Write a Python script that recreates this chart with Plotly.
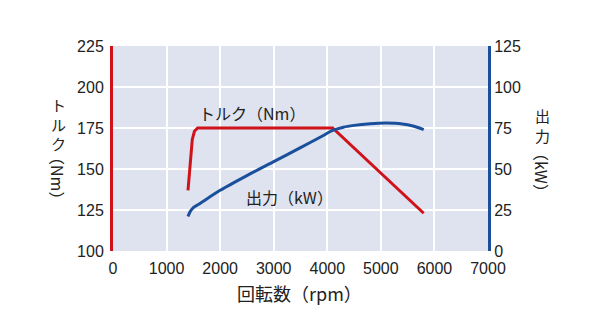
import plotly.graph_objects as go

# Data
torque_rpm = [1400, 1480, 1520, 1580, 4100, 5800]
torque_nm = [137, 168, 173, 175, 175, 123]

power_rpm = [1400, 1440, 1500, 1600, 2000, 2500, 3000, 3500, 3900, 4100, 4300, 4500, 4800, 5100, 5400, 5600, 5800]
power_kw = [21, 24, 26.5, 28.5, 37, 46, 54.5, 63, 70, 73.5, 75.5, 76.6, 77.6, 78, 77.5, 76.2, 74]

x_ticks = [0, 1000, 2000, 3000, 4000, 5000, 6000, 7000]
torque_ticks = [100, 125, 150, 175, 200, 225]
power_ticks = [0, 25, 50, 75, 100, 125]

RED = "#d0121b"
BLUE = "#1a4f9c"
BG = "#dfe2ef"
NUM_FONT = "Liberation Sans, Noto Sans CJK JP"
JP_FONT = "Noto Sans CJK JP, Liberation Sans"

fig = go.Figure()
fig.add_trace(go.Scatter(x=torque_rpm, y=torque_nm, mode="lines",
                         line=dict(color=RED, width=3), yaxis="y", hoverinfo="skip"))
fig.add_trace(go.Scatter(x=power_rpm, y=power_kw, mode="lines",
                         line=dict(color=BLUE, width=3, shape="spline", smoothing=0.8),
                         yaxis="y2", hoverinfo="skip"))

fig.update_layout(
    width=600, height=330,
    margin=dict(l=113, r=112, t=46, b=79),
    paper_bgcolor="white", plot_bgcolor=BG,
    showlegend=False,
    xaxis=dict(range=[0, 7000], tickvals=x_ticks, ticktext=[str(v) for v in x_ticks],
               showgrid=True, gridcolor="white", gridwidth=2, zeroline=False,
               showline=False, ticks="outside", ticklen=3, tickcolor="rgba(0,0,0,0)",
               tickfont=dict(family=NUM_FONT, size=16, color="#222")),
    yaxis=dict(range=[100, 225], tickvals=torque_ticks, showgrid=True, gridcolor="white",
               gridwidth=2, zeroline=False, showline=True, linecolor=RED, linewidth=3,
               ticks="outside", ticklen=3, tickcolor="rgba(0,0,0,0)",
               tickfont=dict(family=NUM_FONT, size=16, color="#222")),
    yaxis2=dict(range=[0, 125], tickvals=power_ticks, overlaying="y", side="right",
                showgrid=False, zeroline=False, showline=True, linecolor=BLUE, linewidth=3,
                ticks="",
                tickfont=dict(family=NUM_FONT, size=16, color="#222")),
)

def px_x(px):
    return (px - 113) / 375

def px_y(py):
    return (251 - py) / 205

ann = []
# x-axis title
ann.append(dict(text="回転数（rpm）", xref="paper", yref="paper", x=px_x(299), y=px_y(293),
                showarrow=False, xanchor="center", yanchor="middle",
                font=dict(family=JP_FONT, size=18, color="#222")))
# in-plot labels
ann.append(dict(text="トルク（Nm）", xref="x", yref="y", x=2600, y=184, showarrow=False,
                xanchor="center", yanchor="middle",
                font=dict(family=JP_FONT, size=16, color="#222")))
ann.append(dict(text="出力（kW）", xref="x", yref="y", x=3300, y=133, showarrow=False,
                xanchor="center", yanchor="middle",
                font=dict(family=JP_FONT, size=16, color="#222")))
# left vertical title (upright kana stacked, bracketed unit rotated)
ann.append(dict(text="ト<br>ル<br>ク", xref="paper", yref="paper", x=px_x(58), y=px_y(124),
                showarrow=False, xanchor="center", yanchor="middle", borderpad=0,
                font=dict(family=JP_FONT, size=15, color="#222")))
ann.append(dict(text="（Nm）", xref="paper", yref="paper", x=px_x(58), y=px_y(178),
                showarrow=False, textangle=90, xanchor="center", yanchor="middle", borderpad=0,
                font=dict(family=JP_FONT, size=16, color="#222")))
# right vertical title
ann.append(dict(text="出<br>力", xref="paper", yref="paper", x=px_x(542), y=px_y(125),
                showarrow=False, xanchor="center", yanchor="middle", borderpad=0,
                font=dict(family=JP_FONT, size=15, color="#222")))
ann.append(dict(text="（kW）", xref="paper", yref="paper", x=px_x(542), y=px_y(172),
                showarrow=False, textangle=90, xanchor="center", yanchor="middle", borderpad=0,
                font=dict(family=JP_FONT, size=16, color="#222")))
fig.update_layout(annotations=ann)

fig.write_html("out.html")
